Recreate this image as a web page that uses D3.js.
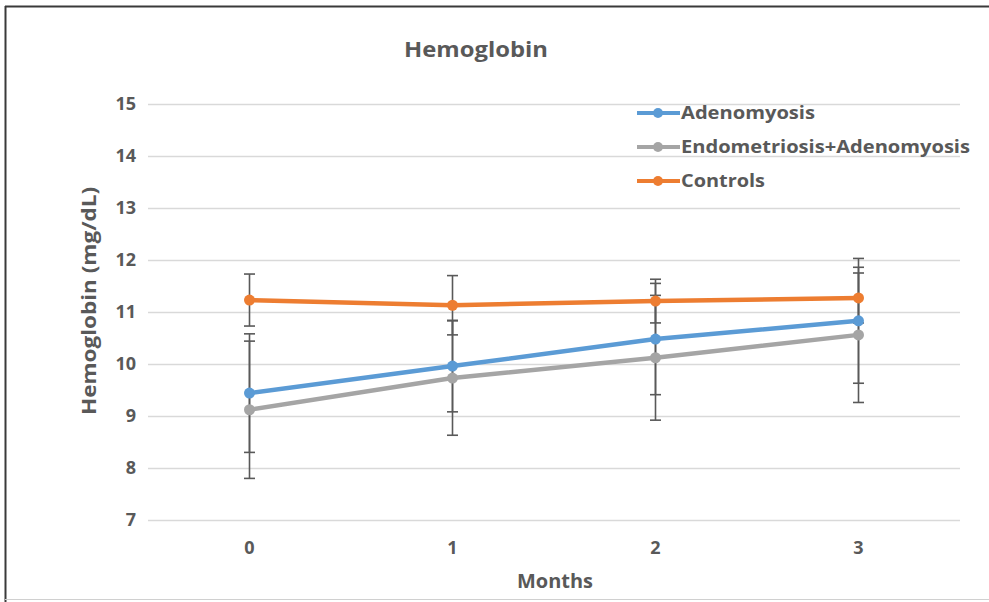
<!DOCTYPE html>
<html><head><meta charset="utf-8">
<script src="https://cdn.jsdelivr.net/npm/d3@7"></script>
<style>body{margin:0;background:#fff}svg{display:block}text{font-family:"Open Sans","Liberation Sans",sans-serif;font-weight:bold;fill:#595959}</style>
</head><body>
<script>
const months = ["0","1","2","3"];
const seriesNames = ["Adenomyosis","Endometriosis+Adenomyosis","Controls"];
const adenomyosis = [9.44, 9.96, 10.48, 10.83];
const endoAdeno = [9.12, 9.73, 10.12, 10.56];
const controls = [11.23, 11.13, 11.21, 11.27];
const adenomyosisErr = [1.14, 0.88, 1.07, 1.2];
const endoAdenoErr = [1.32, 1.1, 1.2, 1.3];
const controlsErr = [0.5, 0.57, 0.42, 0.48];
const yTicks = [7,8,9,10,11,12,13,14,15];
const colors = ["#5B9BD5","#A5A5A5","#ED7D31"];

const W=989,H=602;
const svg=d3.select("body").append("svg").attr("width",W).attr("height",H);
// frame
svg.append("line").attr("x1",5).attr("x2",W).attr("y1",6.5).attr("y2",6.5).attr("stroke","#3a3a3a").attr("stroke-width",2);
svg.append("line").attr("x1",5.5).attr("x2",5.5).attr("y1",6).attr("y2",H).attr("stroke","#3a3a3a").attr("stroke-width",2);
svg.append("line").attr("x1",5).attr("x2",W).attr("y1",599.5).attr("y2",599.5).attr("stroke","#d0d0d0").attr("stroke-width",1);

const x=d3.scaleBand().domain(months).range([148,960]);
const y=d3.scaleLinear().domain([7,15]).range([520,104]);

const g=svg.append("g");
// grid
g.selectAll(".grid").data(yTicks).join("line").attr("x1",148).attr("x2",960)
 .attr("y1",d=>Math.round(y(d))+0.5).attr("y2",d=>Math.round(y(d))+0.5).attr("stroke","#d9d9d9").attr("stroke-width",1.3);
// y axis labels
const ya=svg.append("g").attr("transform","translate(139,0)").call(d3.axisLeft(y).tickValues(yTicks).tickSize(0).tickPadding(3));
ya.select(".domain").remove();
ya.selectAll("text").attr("font-size",18).attr("fill","#595959").attr("font-family","'Open Sans',sans-serif").attr("font-weight","bold");
// x axis labels
const xa=svg.append("g").attr("transform","translate(0,520)").call(d3.axisBottom(x).tickSize(0).tickPadding(21));
xa.select(".domain").remove();
xa.selectAll("text").attr("font-size",18).attr("fill","#595959").attr("font-family","'Open Sans',sans-serif").attr("font-weight","bold");

const series=[
 {name:seriesNames[0],vals:adenomyosis,err:adenomyosisErr,color:colors[0]},
 {name:seriesNames[1],vals:endoAdeno,err:endoAdenoErr,color:colors[1]},
 {name:seriesNames[2],vals:controls,err:controlsErr,color:colors[2]}];
const cx=d=>x(d)+x.bandwidth()/2;
const line=d3.line().x((d,i)=>cx(months[i])).y(d=>y(d));

// error bars (drawn first)
series.forEach(s=>{
  const eg=g.append("g");
  s.vals.forEach((v,i)=>{
    const px=cx(months[i]);
    eg.append("line").attr("x1",px).attr("x2",px).attr("y1",y(v+s.err[i])).attr("y2",y(v-s.err[i])).attr("stroke","#595959").attr("stroke-width",1.6);
    [v+s.err[i],v-s.err[i]].forEach(e=>eg.append("line").attr("x1",px-5.5).attr("x2",px+5.5).attr("y1",y(e)).attr("y2",y(e)).attr("stroke","#595959").attr("stroke-width",1.6));
  });
});
series.forEach(s=>{
  g.append("path").datum(s.vals).attr("d",line).attr("fill","none").attr("stroke",s.color).attr("stroke-width",4.5).attr("stroke-linejoin","round");
  g.selectAll(null).data(s.vals).join("circle").attr("cx",(d,i)=>cx(months[i])).attr("cy",d=>y(d)).attr("r",5.5).attr("fill",s.color);
});

// legend
series.forEach((s,i)=>{
  const ly=113+i*34;
  svg.append("line").attr("x1",637).attr("x2",680).attr("y1",ly).attr("y2",ly).attr("stroke",s.color).attr("stroke-width",4);
  svg.append("circle").attr("cx",658).attr("cy",ly).attr("r",5).attr("fill",s.color);
  svg.append("text").attr("x",681).attr("y",ly).attr("dy","0.35em").attr("font-size",18).attr("textLength",[134,289,84][i]).attr("lengthAdjust","spacingAndGlyphs").text(s.name);
});

svg.append("text").attr("x",476).attr("y",57).attr("text-anchor","middle").attr("font-size",22).attr("textLength",144).attr("lengthAdjust","spacingAndGlyphs").text("Hemoglobin");
svg.append("text").attr("x",555).attr("y",588).attr("text-anchor","middle").attr("font-size",20).attr("textLength",76).attr("lengthAdjust","spacingAndGlyphs").text("Months");
svg.append("text").attr("transform","translate(96,301) rotate(-90)").attr("text-anchor","middle").attr("font-size",20).attr("textLength",228).attr("lengthAdjust","spacingAndGlyphs").text("Hemoglobin (mg/dL)");
</script>
</body></html>
